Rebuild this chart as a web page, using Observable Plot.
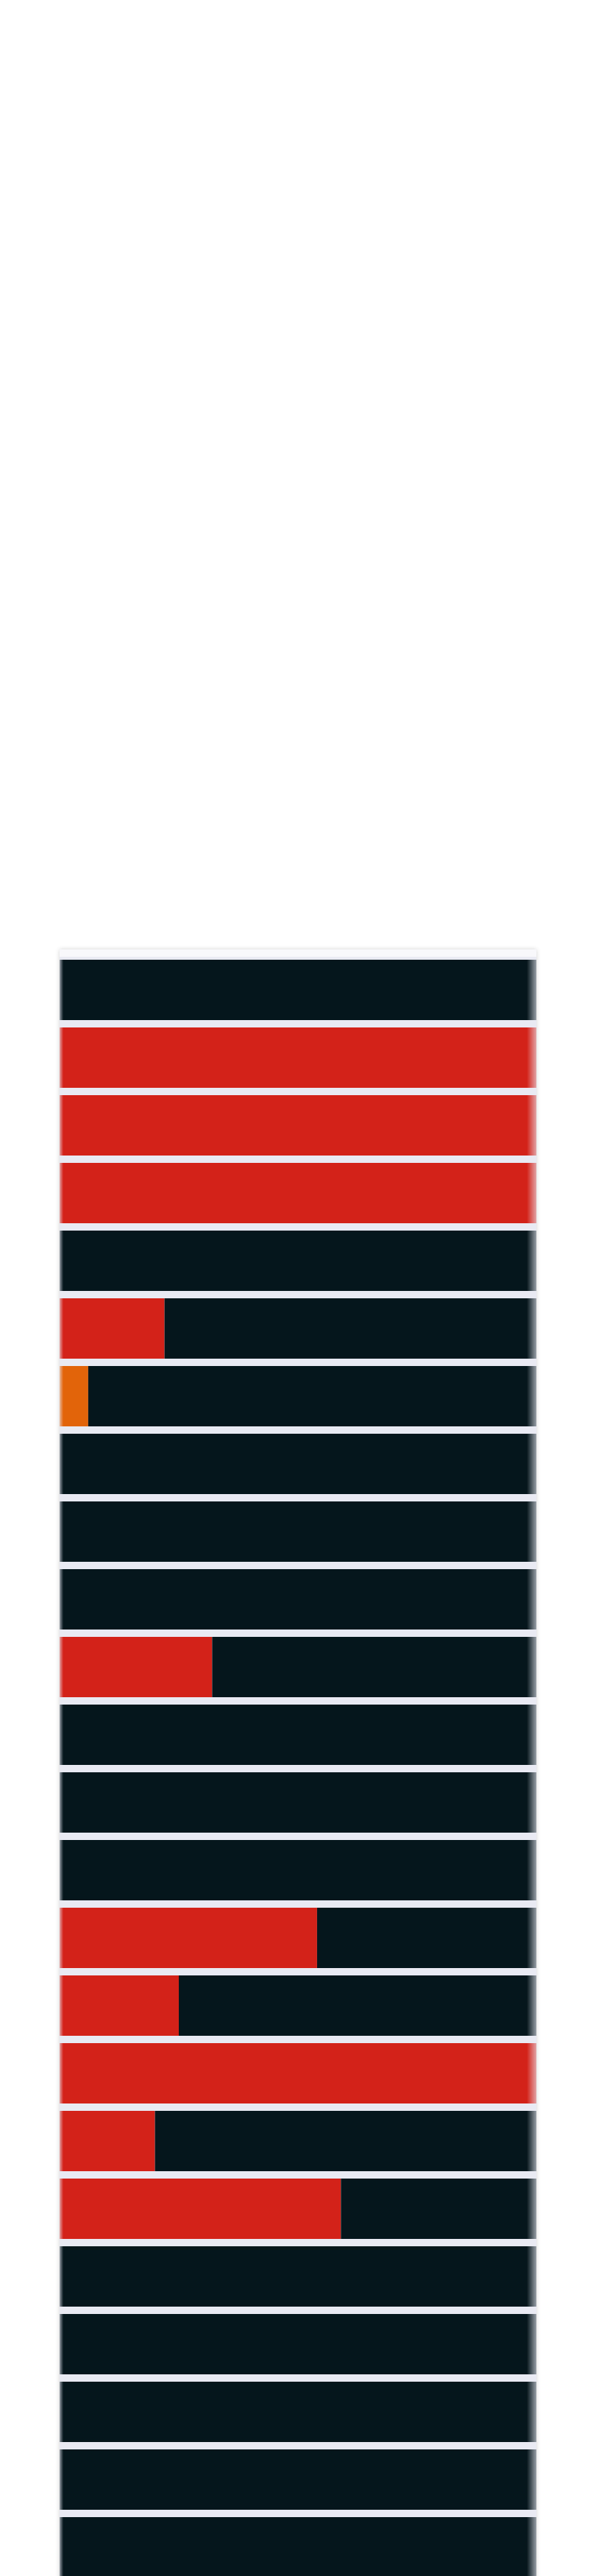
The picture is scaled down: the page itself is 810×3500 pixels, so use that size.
<!DOCTYPE html>
<html>
<head>
<meta charset="utf-8">
<script src="https://cdn.jsdelivr.net/npm/d3@7"></script>
<script src="https://cdn.jsdelivr.net/npm/@observablehq/plot@0.6"></script>
<style>
  html, body { margin: 0; padding: 0; background: #ffffff; }
  body { width: 810px; height: 3500px; position: relative; overflow: hidden; font-family: "Noto Sans", sans-serif; }
  #panel {
    position: absolute; left: 81px; top: 1290px; width: 648px;
    background: linear-gradient(#f8f8fb 0, #f8f8fb 10px, #e9eaf3 10px);
    box-shadow: 0 0 6px rgba(0,0,0,0.18);
  }
  #panel svg {
    display: block;
    -webkit-mask-image: linear-gradient(to right, rgba(0,0,0,0.35) 0, #000 5px, #000 calc(100% - 13px), rgba(0,0,0,0.35) 100%);
    mask-image: linear-gradient(to right, rgba(0,0,0,0.35) 0, #000 5px, #000 calc(100% - 13px), rgba(0,0,0,0.35) 100%);
  }
</style>
</head>
<body>
<div id="panel"></div>
<script>
// Row identifiers (top to bottom)
const rows = d3.range(1, 25);
// Red share (percent of the full bar) per row
const redShare = [0, 100, 100, 100, 0, 22, 0, 0, 0, 0, 32, 0, 0, 0, 54, 25, 100, 20, 59, 0, 0, 0, 0, 0];
// Orange share (percent) per row
const orangeShare = [0, 0, 0, 0, 0, 0, 6, 0, 0, 0, 0, 0, 0, 0, 0, 0, 0, 0, 0, 0, 0, 0, 0, 0];
// Segment kinds and colours
const kinds = ["red", "orange", "rest"];
const kindColors = ["#d32219", "#e2640a", "#05161c"];

const table = [];
rows.forEach((r, i) => {
  table.push({row: r, kind: "red", value: redShare[i]});
  table.push({row: r, kind: "orange", value: orangeShare[i]});
  table.push({row: r, kind: "rest", value: 100 - redShare[i] - orangeShare[i]});
});

const chart = Plot.plot({
  width: 648,
  height: 2225,
  marginTop: 0,
  marginBottom: 0,
  marginLeft: 0,
  marginRight: 0,
  style: {background: "transparent"},
  x: {domain: [0, 100], axis: null},
  y: {type: "band", domain: rows, axis: null, paddingInner: 0.1115, paddingOuter: 0.1115, align: 0.5},
  color: {domain: kinds, range: kindColors},
  marks: [
    Plot.barX(table, Plot.stackX({
      x: "value",
      y: "row",
      fill: "kind",
      order: kinds
    }))
  ]
});
document.getElementById("panel").appendChild(chart);
</script>
</body>
</html>
